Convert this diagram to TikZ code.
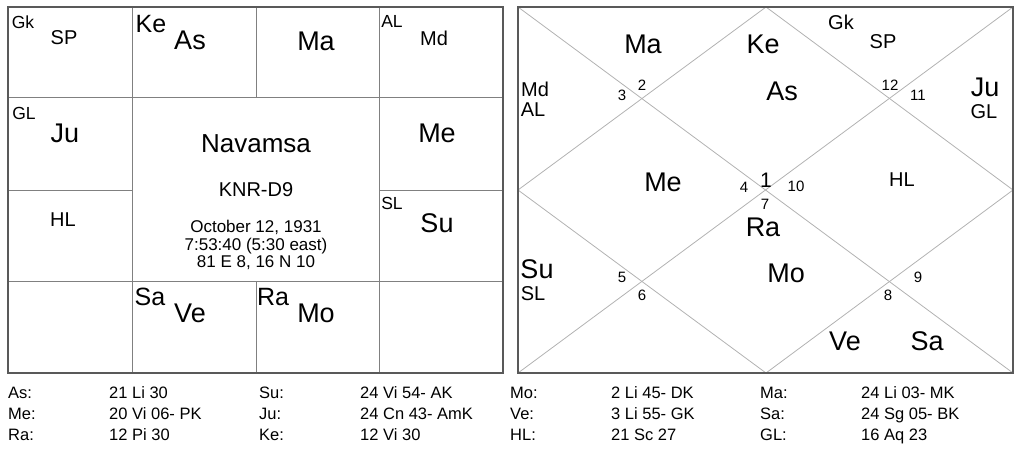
\documentclass[tikz,border=0pt]{standalone}
\usepackage{fontspec}
\setmainfont{Liberation Sans}
\usetikzlibrary{calc}
\usepackage{xcolor}

\tikzset{
  frame/.style={line width=2pt, draw=black!65},
  grid/.style={line width=1pt, draw=black!50},
  diag/.style={line width=0.8pt, draw=black!30},
  lbl/.style={inner sep=0pt},
  big/.style={lbl, font=\fontsize{27}{29}\selectfont},
  mid/.style={lbl, font=\fontsize{25}{27}\selectfont},
  sml/.style={lbl, font=\fontsize{20}{22}\selectfont},
  tny/.style={lbl, font=\fontsize{17.5}{19}\selectfont},
  num/.style={lbl, font=\fontsize{15}{17}\selectfont},
  row/.style={lbl, anchor=base west, font=\fontsize{16.5}{18}\selectfont},
}

\begin{document}
\begin{tikzpicture}[x=1pt,y=-1pt]
      \useasboundingbox (0,0) rectangle (1024,449);

      % Left chart
      \coordinate (LA) at (8,7);
      \coordinate (LB) at (503,373);
      \draw[grid] (132,7) -- (132,373);
      \draw[grid] (379,7) -- (379,373);
      \draw[grid] (256,7) -- (256,98);
      \draw[grid] (256,281) -- (256,373);
      \draw[grid] (8,98) -- (503,98);
      \draw[grid] (8,281) -- (503,281);
      \draw[grid] (8,190) -- (132,190);
      \draw[grid] (379,190) -- (503,190);
      \draw[frame] (LA) rectangle (LB);

      \foreach \t/\x/\y [count=\i] in {As/190/40,Ma/316/41,Ju/65/133,Me/437/133,Su/437/223,Ve/190/313,Mo/316/313}
        \node[big] (LP\i) at (\x,\y) {\t};
      \foreach \t/\x/\y [count=\i] in {Ke/151/24,Sa/150/297,Ra/273/297}
        \node[mid] (LK\i) at (\x,\y) {\t};
      \foreach \t/\x/\y [count=\i] in {SP/64/38,Md/434/38,HL/63/220}
        \node[sml] (LS\i) at (\x,\y) {\t};
      \foreach \t/\x/\y [count=\i] in {Gk/23/22,AL/392/21,GL/24/113,SL/392/203}
        \node[tny] (LT\i) at (\x,\y) {\t};

      \node[lbl, font=\fontsize{26}{28}\selectfont] (title) at (256,144) {Navamsa};
      \node[lbl, font=\fontsize{20}{22}\selectfont] (chart) at (256,190) {KNR-D9};
      \node[lbl, font=\fontsize{17}{17.7}\selectfont, align=center] (birth) at (256,245)
        {October 12, 1931\\7:53:40 (5:30 east)\\81 E 8, 16 N 10};

      % Right chart
      \coordinate (RA) at (518,7);
      \coordinate (RB) at (1013,373);
      \draw[diag] (RA) -- (RB);
      \draw[diag] (1013,7) -- (518,373);
      \draw[diag] (766,7) -- (1013,190) -- (766,373) -- (518,190) -- cycle;
      \draw[frame] (RA) rectangle (RB);

      \foreach \t/\x/\y [count=\i] in {Ma/643/44,Ke/763/44,As/782/91,Ju/985/87,Me/663/182,Ra/763/227,Su/537/269,Mo/786/273,Ve/845/341,Sa/927/341}
        \node[big] (RP\i) at (\x,\y) {\t};
      \foreach \t/\x/\y [count=\i] in {Gk/841/22,SP/883/42,Md/535/89,AL/533/110,GL/984/112,HL/902/180,SL/533/294}
        \node[sml] (RS\i) at (\x,\y) {\t};

      % House numbers
      \foreach \n/\x/\y in {2/642/85,3/622/95,4/744/187,5/622/277,6/642/295,7/765/204,8/888/295,9/918/277,10/796/186,11/918/95,12/890/85}
        \node[num] (H\n) at (\x,\y) {\n};
      \node[lbl, font=\fontsize{21}{23}\selectfont] (H1) at (766,180) {1};

      % Table
      \foreach \p/\v/\x/\y [count=\i] in {As:/21 Li 30/8/398,Me:/20 Vi 06- PK/8/419,Ra:/12 Pi 30/8/440,
          Su:/24 Vi 54- AK/259/398,Ju:/24 Cn 43- AmK/259/419,Ke:/12 Vi 30/259/440,
          Mo:/2 Li 45- DK/510/398,Ve:/3 Li 55- GK/510/419,HL:/21 Sc 27/510/440,
          Ma:/24 Li 03- MK/760/398,Sa:/24 Sg 05- BK/760/419,GL:/16 Aq 23/760/440}
      {
        \node[row] (TP\i) at (\x,\y) {\p};
        \node[row] (TV\i) at ($(\x,\y)+(101,0)$) {\v};
      }
\end{tikzpicture}
\end{document}
